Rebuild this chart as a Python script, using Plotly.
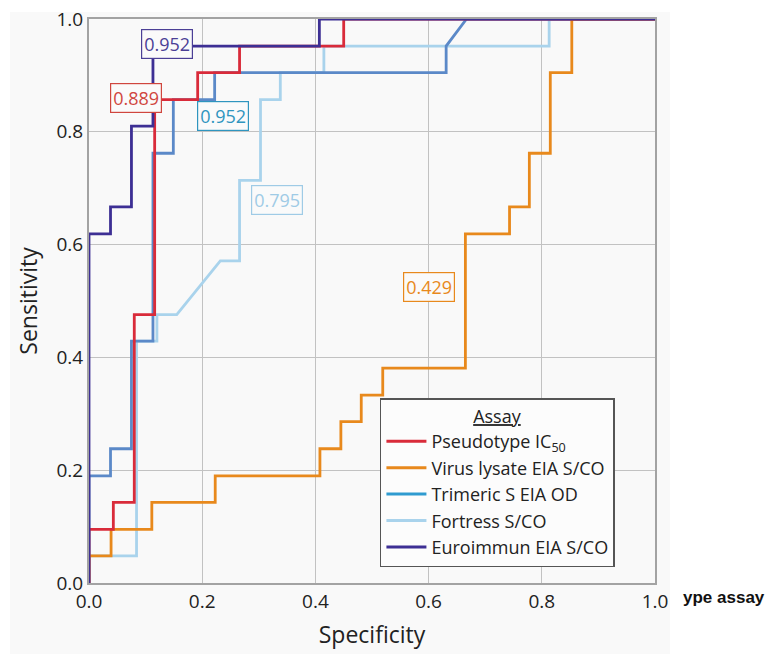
import plotly.graph_objects as go

# ---- data ----
pseudo_x = [0.0, 0.0, 0.043, 0.043, 0.080, 0.080, 0.116, 0.116, 0.192, 0.192, 0.266, 0.266, 0.450, 0.450, 1.0]
pseudo_y = [0.0, 0.095, 0.095, 0.143, 0.143, 0.476, 0.476, 0.857, 0.857, 0.905, 0.905, 0.952, 0.952, 1.0, 1.0]

lysate_x = [0.0, 0.0, 0.039, 0.039, 0.111, 0.111, 0.223, 0.223, 0.408, 0.408, 0.445, 0.445, 0.481, 0.481,
            0.519, 0.519, 0.665, 0.665, 0.743, 0.743, 0.778, 0.778, 0.815, 0.815, 0.853, 0.853, 1.0]
lysate_y = [0.0, 0.048, 0.048, 0.095, 0.095, 0.143, 0.143, 0.190, 0.190, 0.238, 0.238, 0.286, 0.286, 0.333,
            0.333, 0.381, 0.381, 0.619, 0.619, 0.667, 0.667, 0.762, 0.762, 0.905, 0.905, 1.0, 1.0]

trimeric_x = [0.0, 0.0, 0.038, 0.038, 0.075, 0.075, 0.113, 0.113, 0.149, 0.149, 0.222, 0.222, 0.631, 0.631, 0.667, 1.0]
trimeric_y = [0.0, 0.190, 0.190, 0.238, 0.238, 0.429, 0.429, 0.762, 0.762, 0.857, 0.857, 0.905, 0.905, 0.952, 1.0, 1.0]

fortress_x = [0.0, 0.0, 0.084, 0.084, 0.120, 0.120, 0.155, 0.232, 0.266, 0.266, 0.303, 0.303, 0.338, 0.338,
              0.415, 0.415, 0.813, 0.813, 1.0]
fortress_y = [0.0, 0.048, 0.048, 0.429, 0.429, 0.476, 0.476, 0.571, 0.571, 0.714, 0.714, 0.857, 0.857, 0.905,
              0.905, 0.952, 0.952, 1.0, 1.0]

euro_x = [0.0, 0.0, 0.038, 0.038, 0.075, 0.075, 0.113, 0.113, 0.407, 0.407, 1.0]
euro_y = [0.0, 0.619, 0.619, 0.667, 0.667, 0.810, 0.810, 0.952, 0.952, 1.0, 1.0]

series_names = ["Pseudotype IC<sub>50</sub>", "Virus lysate EIA S/CO", "Trimeric S EIA OD",
                "Fortress S/CO", "Euroimmun EIA S/CO"]
auc_labels = ["0.889", "0.429", "0.952", "0.795", "0.952"]
label_x = [0.083, 0.600, 0.237, 0.333, 0.138]
label_y = [0.860, 0.525, 0.828, 0.679, 0.955]

tick_vals = [0.0, 0.2, 0.4, 0.6, 0.8, 1.0]
tick_text = ["0.0", "0.2", "0.4", "0.6", "0.8", "1.0"]

# ---- styles ----
line_colors = ["#d92b3a", "#e8891c", "#5b89c8", "#a9d3ec", "#3d2f94"]
legend_colors = ["#d92b3a", "#e8891c", "#2f9bd0", "#a9d3ec", "#3d2f94"]
label_colors = ["#d0463e", "#e8891c", "#2f95bf", "#9fcbe6", "#4b3f96"]
FONT = "Open Sans"

xs = [pseudo_x, lysate_x, trimeric_x, fortress_x, euro_x]
ys = [pseudo_y, lysate_y, trimeric_y, fortress_y, euro_y]

fig = go.Figure()
draw_order = [3, 2, 1, 0, 4]
for i in draw_order:
    fig.add_trace(go.Scatter(x=xs[i], y=ys[i], mode="lines", showlegend=False,
                             line=dict(color=line_colors[i], width=2.8), hoverinfo="skip"))
for i in range(5):
    fig.add_trace(go.Scatter(x=[None], y=[None], mode="lines", name=series_names[i],
                             line=dict(color=legend_colors[i], width=3)))

for i in range(5):
    fig.add_annotation(x=label_x[i], y=label_y[i], xref="x", yref="y", text=auc_labels[i],
                       showarrow=False, font=dict(family=FONT, size=18, color=label_colors[i]),
                       bgcolor="#fafafa", bordercolor=label_colors[i], borderwidth=1.2, borderpad=2)

fig.add_annotation(x=1.0, xref="paper", y=-0.025, yref="paper", xshift=26, text="<b>ype assay</b>",
                   showarrow=False, xanchor="left", yanchor="middle",
                   font=dict(family="Liberation Sans, Arial", size=17, color="#111111"))

# grey screenshot background
fig.add_shape(type="rect", xref="paper", yref="paper", x0=-0.1396, x1=1.0265, y0=-0.126, y1=1.0124,
              fillcolor="#f9f9f9", line=dict(width=0), layer="below")

axis_common = dict(range=[0, 1], tickvals=tick_vals, ticktext=tick_text, showgrid=True,
                   gridcolor="#c2c2c2", gridwidth=1.3, zeroline=False, showline=True, mirror=True,
                   linecolor="#a3a3a3", linewidth=2.2, ticks="", automargin=False,
                   tickfont=dict(family=FONT, size=19, color="#222222"))

fig.update_layout(
    width=766, height=654,
    margin=dict(l=89, r=111, t=19, b=71, autoexpand=False),
    paper_bgcolor="white", plot_bgcolor="#fafafa",
    font=dict(family=FONT, size=18, color="#222222"),
    xaxis=dict(**axis_common, title=dict(text="Specificity", font=dict(family=FONT, size=23), standoff=14)),
    yaxis=dict(**axis_common, title=dict(text="Sensitivity", font=dict(family=FONT, size=23), standoff=12)),
    legend=dict(x=0.514, y=0.028, xanchor="left", yanchor="bottom", itemwidth=40,
                title=dict(text="<u>Assay</u>", side="top center", font=dict(family=FONT, size=18)),
                bgcolor="#fcfcfc", bordercolor="#555555", borderwidth=1.5,
                font=dict(family=FONT, size=18, color="#222222"), tracegroupgap=0),
)

fig.write_html("out.html", config={"displayModeBar": False},
               post_script="document.body.style.margin='0';document.body.style.overflow='hidden';")
